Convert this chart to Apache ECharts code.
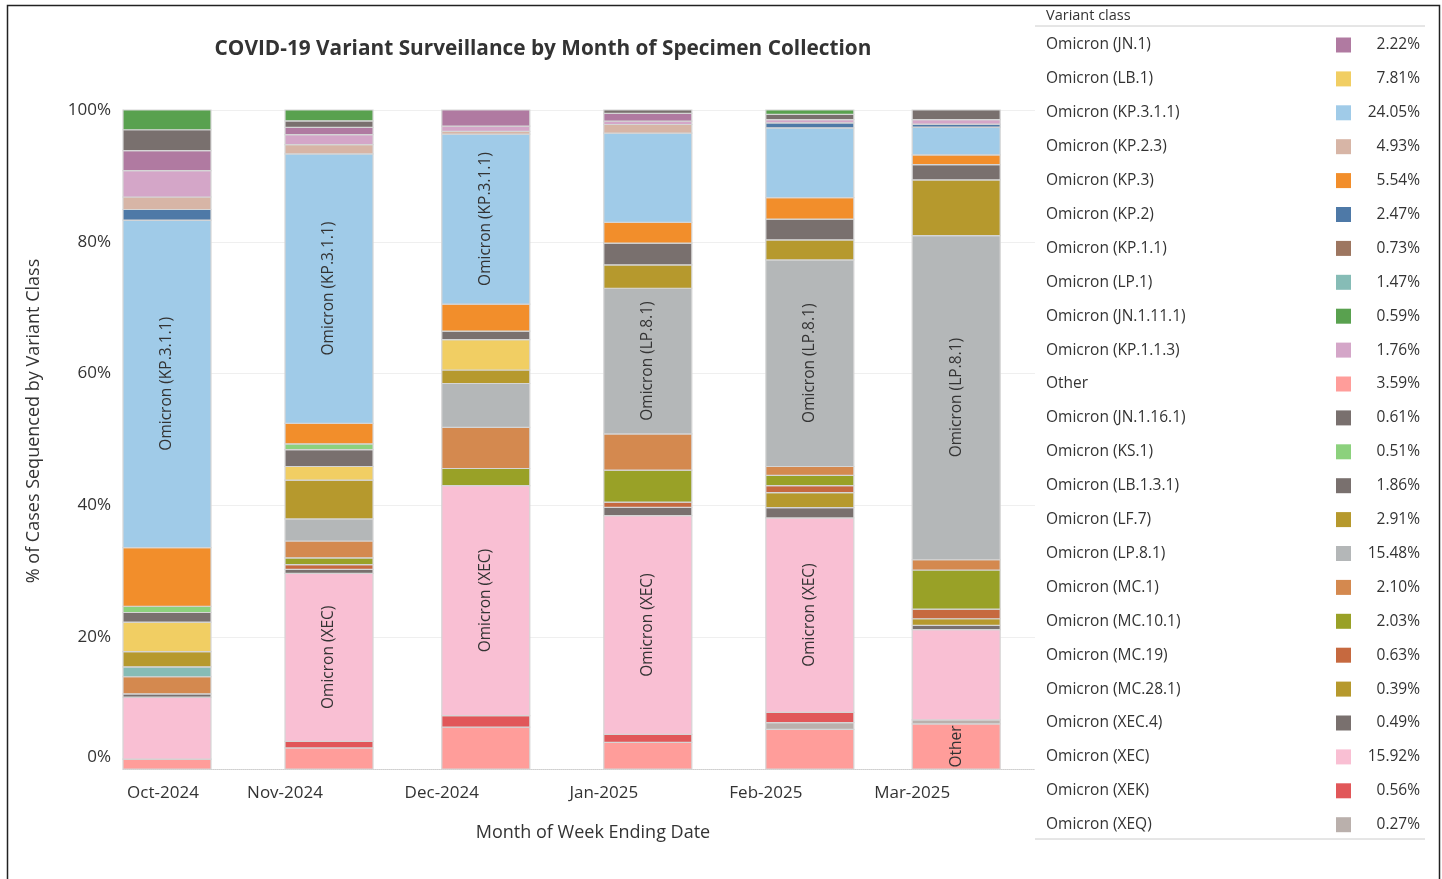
<!DOCTYPE html>
<html>
<head>
<meta charset="utf-8">
<script src="https://cdn.jsdelivr.net/npm/echarts@6/dist/echarts.min.js"></script>
<style>
html,body{margin:0;padding:0;background:#fff;}
#chart{width:1442px;height:879px;}
</style>
</head>
<body>
<div id="chart"></div>
<script>
// ---- Data ----
const months = ['2024-10-01', '2024-11-01', '2024-12-01', '2025-01-01', '2025-02-01', '2025-03-01'];

// Percent of cases per month (Oct, Nov, Dec, Jan, Feb, Mar)
const other      = [1.5, 3.2, 6.35, 4.05, 6.0, 6.85];
const xeq        = [0, 0, 0, 0, 1.05, 0.6];
const xek        = [0, 1.0, 1.75, 1.2, 1.55, 0];
const xec        = [9.4, 25.5, 34.9, 33.2, 29.5, 13.7];
const xec4       = [0.5, 0.6, 0, 1.25, 1.55, 0.65];
const mc2811     = [0, 0, 0, 0, 2.3, 1.0];
const mc19       = [0, 0.7, 0, 0.8, 1.05, 1.45];
const mc101      = [0, 1.05, 2.6, 4.85, 1.55, 5.95];
const mc1        = [2.6, 2.55, 6.25, 5.5, 1.35, 1.55];
const lp81       = [0, 3.35, 6.65, 22.1, 31.35, 49.2];
const lp1        = [1.5, 0, 0, 0, 0, 0];
const lf7        = [2.3, 5.9, 2.05, 3.55, 3.05, 8.45];
const lb1        = [4.5, 2.05, 4.6, 0, 0, 0];
const lb131      = [1.45, 2.55, 1.3, 3.3, 3.15, 2.3];
const ks1        = [0.95, 0.9, 0, 0, 0, 0];
const kp3        = [8.9, 3.1, 4.1, 3.15, 3.25, 1.5];
const kp311      = [49.7, 40.9, 25.8, 13.55, 10.6, 4.2];
const kp2        = [1.6, 0, 0, 0, 0.75, 0.45];
const kp23       = [1.9, 1.4, 0.4, 1.3, 0, 0];
const kp11       = [0, 0, 0, 0, 0, 0];
const kp113      = [4.0, 1.5, 0.8, 0.5, 0.5, 0.7];
const jn1        = [3.05, 1.1, 2.45, 1.2, 0, 0];
const jn1161     = [3.15, 1.0, 0, 0.5, 0.8, 1.45];
const jn1111     = [3.0, 1.65, 0, 0, 0.65, 0];

// Legend (order and overall share as shown)
const legendNames = ['Omicron (JN.1)', 'Omicron (LB.1)', 'Omicron (KP.3.1.1)', 'Omicron (KP.2.3)', 'Omicron (KP.3)',
  'Omicron (KP.2)', 'Omicron (KP.1.1)', 'Omicron (LP.1)', 'Omicron (JN.1.11.1)', 'Omicron (KP.1.1.3)', 'Other',
  'Omicron (JN.1.16.1)', 'Omicron (KS.1)', 'Omicron (LB.1.3.1)', 'Omicron (LF.7)', 'Omicron (LP.8.1)', 'Omicron (MC.1)',
  'Omicron (MC.10.1)', 'Omicron (MC.19)', 'Omicron (MC.28.1)', 'Omicron (XEC.4)', 'Omicron (XEC)', 'Omicron (XEK)', 'Omicron (XEQ)'];
const legendPct = ['2.22%', '7.81%', '24.05%', '4.93%', '5.54%', '2.47%', '0.73%', '1.47%', '0.59%', '1.76%', '3.59%',
  '0.61%', '0.51%', '1.86%', '2.91%', '15.48%', '2.10%', '2.03%', '0.63%', '0.39%', '0.49%', '15.92%', '0.56%', '0.27%'];

// Segments carrying an in-bar label: [month index, variant name]
const labelledCells = [
  [0, 'Omicron (KP.3.1.1)'], [1, 'Omicron (KP.3.1.1)'], [1, 'Omicron (XEC)'],
  [2, 'Omicron (KP.3.1.1)'], [2, 'Omicron (XEC)'], [3, 'Omicron (LP.8.1)'], [3, 'Omicron (XEC)'],
  [4, 'Omicron (LP.8.1)'], [4, 'Omicron (XEC)'], [5, 'Omicron (LP.8.1)'], [5, 'Other']
];

// Stack order, bottom to top
const stack = [
  ['Other', other], ['Omicron (XEQ)', xeq], ['Omicron (XEK)', xek], ['Omicron (XEC)', xec], ['Omicron (XEC.4)', xec4],
  ['Omicron (MC.28.1)', mc2811], ['Omicron (MC.19)', mc19], ['Omicron (MC.10.1)', mc101], ['Omicron (MC.1)', mc1],
  ['Omicron (LP.8.1)', lp81], ['Omicron (LP.1)', lp1], ['Omicron (LF.7)', lf7], ['Omicron (LB.1)', lb1],
  ['Omicron (LB.1.3.1)', lb131], ['Omicron (KS.1)', ks1], ['Omicron (KP.3)', kp3], ['Omicron (KP.3.1.1)', kp311],
  ['Omicron (KP.2)', kp2], ['Omicron (KP.2.3)', kp23], ['Omicron (KP.1.1)', kp11], ['Omicron (KP.1.1.3)', kp113],
  ['Omicron (JN.1)', jn1], ['Omicron (JN.1.16.1)', jn1161], ['Omicron (JN.1.11.1)', jn1111]
];

// ---- Styles ----
const colors = {
  'Omicron (JN.1)': '#b07aa1', 'Omicron (LB.1)': '#f1ce63', 'Omicron (KP.3.1.1)': '#a0cbe8', 'Omicron (KP.2.3)': '#d7b5a6',
  'Omicron (KP.3)': '#f28e2b', 'Omicron (KP.2)': '#4e79a7', 'Omicron (KP.1.1)': '#9d7660', 'Omicron (LP.1)': '#86bcb6',
  'Omicron (JN.1.11.1)': '#59a14f', 'Omicron (KP.1.1.3)': '#d4a6c8', 'Other': '#ff9d9a', 'Omicron (JN.1.16.1)': '#79706e',
  'Omicron (KS.1)': '#8cd17d', 'Omicron (LB.1.3.1)': '#79706e', 'Omicron (LF.7)': '#b6992d', 'Omicron (LP.8.1)': '#b4b7b8',
  'Omicron (MC.1)': '#d4894f', 'Omicron (MC.10.1)': '#99a127', 'Omicron (MC.19)': '#c6693f', 'Omicron (MC.28.1)': '#b6992d',
  'Omicron (XEC.4)': '#79706e', 'Omicron (XEC)': '#f9bfd3', 'Omicron (XEK)': '#e15759', 'Omicron (XEQ)': '#bab0ac'
};
const FONT = '"Open Sans", "Noto Sans", sans-serif';
const BAR_W = 88;
const monthNames = ['Jan','Feb','Mar','Apr','May','Jun','Jul','Aug','Sep','Oct','Nov','Dec'];
const firstMonthTs = echarts.time.parse(months[0]).getTime();

// ---- Build series ----
const base = months.map(() => 0);
const series = stack.map(([name, vals]) => {
  const data = months.map((m, i) => {
    const b = base[i];
    const t = b + vals[i];
    base[i] = t;
    const lab = labelledCells.some(c => c[0] === i && c[1] === name) ? 1 : 0;
    return [m, b, t, lab];
  });
  const color = colors[name];
  return {
    type: 'custom',
    name: name,
    coordinateSystem: 'cartesian2d',
    dimensions: [{name: 'month', type: 'time'}, 'base', 'top', 'lab'],
    encode: {x: 0, y: [1, 2]},
    itemStyle: {color: color},
    data: data,
    renderItem: function (params, api) {
      const x = api.value(0), y0 = api.value(1), y1 = api.value(2);
      if (!(y1 - y0 > 0)) return null;
      const p0 = api.coord([x, y0]);
      const p1 = api.coord([x, y1]);
      const children = [{
        type: 'rect',
        shape: {x: p0[0], y: p1[1], width: BAR_W, height: p0[1] - p1[1]},
        style: {fill: color, stroke: '#d5d5d5', lineWidth: 1.2}
      }];
      if (api.value(3)) {
        children.push({
          type: 'text',
          x: p0[0] + BAR_W / 2,
          y: (p0[1] + p1[1]) / 2,
          rotation: Math.PI / 2,
          style: {text: name, fill: '#333', font: '15.5px ' + FONT, align: 'center', verticalAlign: 'middle'}
        });
      }
      return {type: 'group', children: children};
    }
  };
});

// ---- Legend rich styles ----
const rich = {
  n: {width: 290, fontSize: 15.5, color: '#333', fontFamily: FONT},
  p: {width: 69, align: 'right', fontSize: 15.5, color: '#333', fontFamily: FONT}
};
legendNames.forEach((n, i) => { rich['s' + i] = {width: 15, height: 15, backgroundColor: colors[n]}; });

const chart = echarts.init(document.getElementById('chart'), null, {renderer: 'canvas'});
chart.setOption({
  animation: false,
  backgroundColor: '#fff',
  textStyle: {fontFamily: FONT},
  title: {
    text: 'COVID-19 Variant Surveillance by Month of Specimen Collection',
    left: 538, top: 34, textAlign: 'center',
    textStyle: {fontSize: 20.8, fontWeight: 'bold', color: '#333', fontFamily: FONT}
  },
  legend: {
    data: legendNames,
    orient: 'vertical',
    left: 1036, top: 32,
    itemWidth: 0, itemHeight: 0,
    itemGap: 17.9,
    selectedMode: false,
    formatter: function (name) {
      const i = legendNames.indexOf(name);
      return '{n|' + name + '}{s' + i + '| }{p|' + legendPct[i] + '}';
    },
    textStyle: {rich: rich}
  },
  grid: {left: 123, right: 407, top: 110, bottom: 110, containLabel: false},
  xAxis: {
    type: 'time',
    min: '2024-10-01',
    max: '2025-03-24 12:00',
    minInterval: 28 * 86400000,
    maxInterval: 31 * 86400000,
    name: 'Month of Week Ending Date',
    nameLocation: 'middle',
    nameGap: 55,
    nameTextStyle: {fontSize: 18, color: '#333', fontFamily: FONT, padding: [0, 0, 0, 28]},
    axisLine: {show: true, lineStyle: {color: '#cfcfcf', type: 'dotted'}},
    axisTick: {show: false},
    splitLine: {show: false},
    axisLabel: {
      fontSize: 17, color: '#333', fontFamily: FONT, margin: 16,
      formatter: function (v) {
        const d = new Date(v);
        const s = monthNames[d.getMonth()] + '-' + d.getFullYear();
        return Math.abs(v - firstMonthTs) < 86400000 ? '{first|' + s + '}' : s;
      },
      rich: {first: {fontSize: 17, color: '#333', fontFamily: FONT, padding: [0, 0, 0, 80]}}
    }
  },
  yAxis: {
    type: 'value', min: 0, max: 100, interval: 20,
    name: '% of Cases Sequenced by Variant Class',
    nameLocation: 'middle', nameGap: 80,
    nameTextStyle: {fontSize: 18, color: '#333', fontFamily: FONT, padding: [0, 0, 0, 37]},
    axisLine: {show: true, lineStyle: {color: '#e6e6e6'}},
    axisTick: {show: false},
    splitLine: {lineStyle: {color: '#efefef'}},
    axisLabel: {
      fontSize: 17, color: '#333', fontFamily: FONT, margin: 12,
      formatter: function (v) { return v === 0 ? '{z|0%}' : v + '%'; },
      rich: {z: {fontSize: 17, color: '#333', fontFamily: FONT, padding: [0, 0, 24, 0]}}
    }
  },
  graphic: [
    {type: 'rect', left: 5, top: 3, shape: {width: 1432, height: 890}, style: {fill: 'none', stroke: '#222', lineWidth: 1.5}, silent: true},
    {type: 'text', left: 1046, top: 8, style: {text: 'Variant class', fill: '#333', font: '14.5px ' + FONT}},
    {type: 'line', shape: {x1: 1035, y1: 26, x2: 1425, y2: 26}, style: {stroke: '#cccccc', lineWidth: 1}},
    {type: 'line', shape: {x1: 1035, y1: 839, x2: 1425, y2: 839}, style: {stroke: '#cccccc', lineWidth: 1}}
  ],
  series: series
});
</script>
</body>
</html>
